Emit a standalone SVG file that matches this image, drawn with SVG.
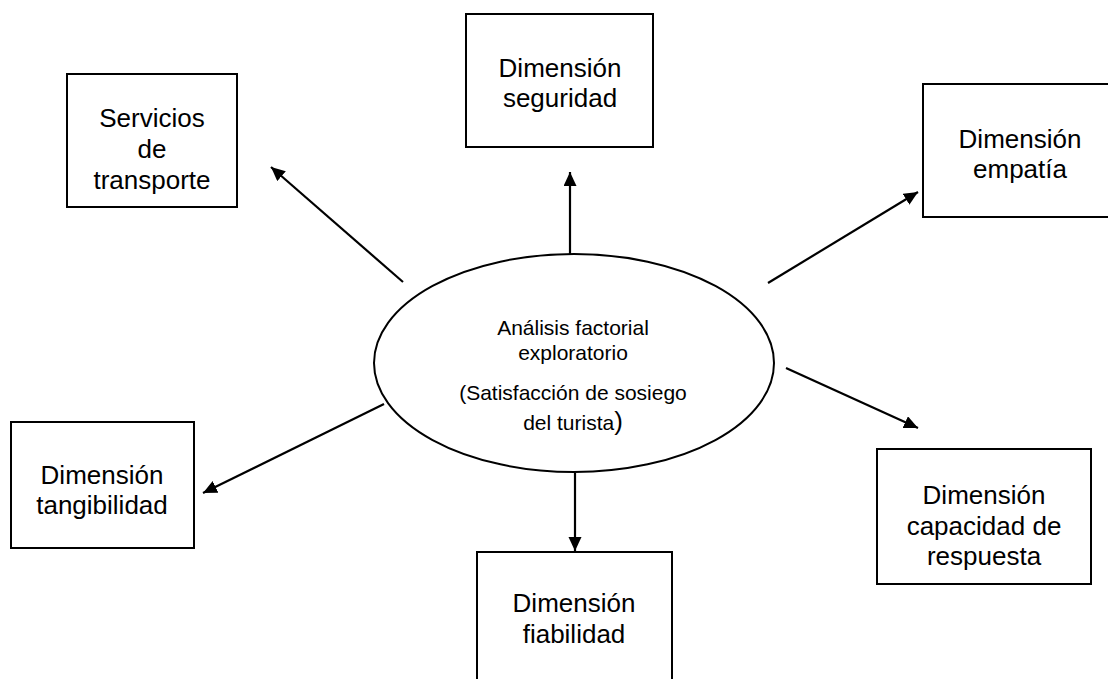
<svg xmlns="http://www.w3.org/2000/svg" width="1108" height="679" viewBox="0 0 1108 679">
<style>
.box{fill:#fff;stroke:#000;stroke-width:2}
.t{font-family:"Liberation Sans",Arial,sans-serif;font-size:26px;fill:#000;text-anchor:middle}
.s{font-family:"Liberation Sans",Arial,sans-serif;font-size:21px;fill:#000;text-anchor:middle}
.c{stroke:#000;stroke-width:2.2;fill:none;marker-end:url(#ah)}
</style>
<defs>
<marker id="ah" markerUnits="userSpaceOnUse" markerWidth="16" markerHeight="14" refX="14" refY="6.5" orient="auto">
<path d="M0,0 L14,6.5 L0,13 z" fill="#000"/>
</marker>
</defs>
<rect width="1108" height="679" fill="#fff"/>
<g id="connectors">
<line class="c" x1="403" y1="282" x2="271" y2="167"/>
<line class="c" x1="570" y1="254" x2="570" y2="172"/>
<line class="c" x1="768" y1="283" x2="918" y2="192"/>
<line class="c" x1="786" y1="368" x2="918" y2="428"/>
<line class="c" x1="575" y1="473" x2="575" y2="551"/>
<line class="c" x1="384" y1="404" x2="203" y2="493"/>
</g>
<g id="center">
<ellipse cx="574" cy="363" rx="200" ry="109" fill="#fff" stroke="#000" stroke-width="2"/>
<text class="s" x="573" y="335">Análisis factorial</text>
<text class="s" x="573" y="360">exploratorio</text>
<text class="s" x="573" y="400">(Satisfacción de sosiego</text>
<text class="s" x="573" y="430">del turista<tspan font-size="26">)</tspan></text>
</g>
<g id="servicios">
<rect class="box" x="67" y="74" width="170" height="133"/>
<text class="t" x="152" y="127">Servicios</text>
<text class="t" x="152" y="158">de</text>
<text class="t" x="152" y="189">transporte</text>
</g>
<g id="seguridad">
<rect class="box" x="466" y="14" width="187" height="133"/>
<text class="t" x="560" y="77">Dimensión</text>
<text class="t" x="560" y="107">seguridad</text>
</g>
<g id="empatia">
<rect class="box" x="923" y="84" width="194" height="133"/>
<text class="t" x="1020" y="148">Dimensión</text>
<text class="t" x="1020" y="178">empatía</text>
</g>
<g id="tangibilidad">
<rect class="box" x="11" y="422" width="183" height="126"/>
<text class="t" x="102" y="484">Dimensión</text>
<text class="t" x="102" y="514">tangibilidad</text>
</g>
<g id="fiabilidad">
<rect class="box" x="477" y="552" width="195" height="140"/>
<text class="t" x="574" y="612">Dimensión</text>
<text class="t" x="574" y="643">fiabilidad</text>
</g>
<g id="capacidad">
<rect class="box" x="877" y="449" width="214" height="135"/>
<text class="t" x="984" y="504">Dimensión</text>
<text class="t" x="984" y="535">capacidad de</text>
<text class="t" x="984" y="565">respuesta</text>
</g>
</svg>
